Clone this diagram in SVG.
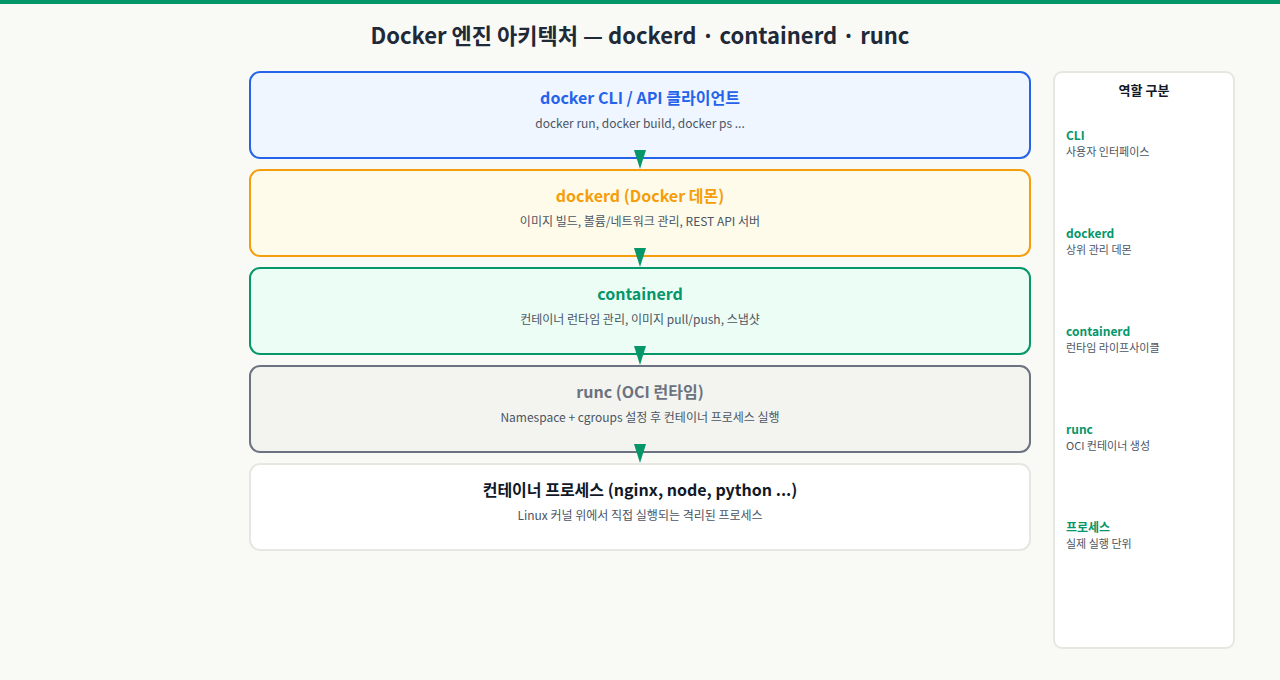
<svg xmlns="http://www.w3.org/2000/svg" width="1280" height="680" viewBox="0 0 1280 680">
<style>
text{font-family:"Noto Sans CJK KR","Noto Sans",sans-serif}
.t{font-size:16px;font-weight:700;text-anchor:middle}
.s{font-size:12px;fill:#4b5563;text-anchor:middle}
.box{stroke-width:2}
.lh{font-size:12px;font-weight:700;fill:#059669}
.ld{font-size:11px;fill:#4b5563}
.c{stroke:#059669;stroke-width:2;fill:none}
</style>
<defs><marker id="ah" viewBox="0 0 12 18" refX="12" refY="6" markerWidth="12" markerHeight="18" markerUnits="userSpaceOnUse" orient="auto"><path d="M0,0 L18,6 L0,12 Z" fill="#059669" transform="scale(0.67,1)"/></marker></defs>
<rect width="1280" height="680" fill="#f9faf6"/>
<rect width="1280" height="4" fill="#059669"/>
<text x="640" y="44" font-size="22" font-weight="700" fill="#1f2937" text-anchor="middle">Docker 엔진 아키텍처 — dockerd · containerd · runc</text>
<g id="cli"><rect class="box" x="250" y="72" width="780" height="86" rx="10" fill="#eff6ff" stroke="#2563eb"/><text class="t" x="640" y="104" fill="#2563eb">docker CLI / API 클라이언트</text><text class="s" x="640" y="128">docker run, docker build, docker ps ...</text></g>
<g id="dockerd"><rect class="box" x="250" y="170" width="780" height="86" rx="10" fill="#fefbea" stroke="#f59e0b"/><text class="t" x="640" y="202" fill="#f59e0b">dockerd (Docker 데몬)</text><text class="s" x="640" y="226">이미지 빌드, 볼륨/네트워크 관리, REST API 서버</text></g>
<g id="containerd"><rect class="box" x="250" y="268" width="780" height="86" rx="10" fill="#ecfdf5" stroke="#059669"/><text class="t" x="640" y="300" fill="#059669">containerd</text><text class="s" x="640" y="324">컨테이너 런타임 관리, 이미지 pull/push, 스냅샷</text></g>
<g id="runc"><rect class="box" x="250" y="366" width="780" height="86" rx="10" fill="#f3f4ef" stroke="#6b7280"/><text class="t" x="640" y="398" fill="#6b7280">runc (OCI 런타임)</text><text class="s" x="640" y="422">Namespace + cgroups 설정 후 컨테이너 프로세스 실행</text></g>
<g id="proc"><rect class="box" x="250" y="464" width="780" height="86" rx="10" fill="#ffffff" stroke="#e5e7e0"/><text class="t" x="640" y="496" fill="#111827">컨테이너 프로세스 (nginx, node, python ...)</text><text class="s" x="640" y="520">Linux 커널 위에서 직접 실행되는 격리된 프로세스</text></g>
<g id="connectors">
<path d="M640,150 L646,150 L640,169 L634,150 Z" fill="#059669"/>
<path d="M640,248 L646,248 L640,267 L634,248 Z" fill="#059669"/>
<path d="M640,346 L646,346 L640,365 L634,346 Z" fill="#059669"/>
<path d="M640,444 L646,444 L640,463 L634,444 Z" fill="#059669"/>
</g>
<g id="legend">
<rect x="1054" y="72" width="180" height="576" rx="8" fill="#ffffff" stroke="#e5e7e0" stroke-width="2"/>
<text x="1144" y="95" font-size="13" font-weight="700" fill="#111827" text-anchor="middle">역할 구분</text>
<text class="lh" x="1066" y="140">CLI</text><text class="ld" x="1066" y="156">사용자 인터페이스</text>
<text class="lh" x="1066" y="238">dockerd</text><text class="ld" x="1066" y="254">상위 관리 데몬</text>
<text class="lh" x="1066" y="336">containerd</text><text class="ld" x="1066" y="352">런타임 라이프사이클</text>
<text class="lh" x="1066" y="434">runc</text><text class="ld" x="1066" y="450">OCI 컨테이너 생성</text>
<text class="lh" x="1066" y="532">프로세스</text><text class="ld" x="1066" y="548">실제 실행 단위</text>
</g>
</svg>
